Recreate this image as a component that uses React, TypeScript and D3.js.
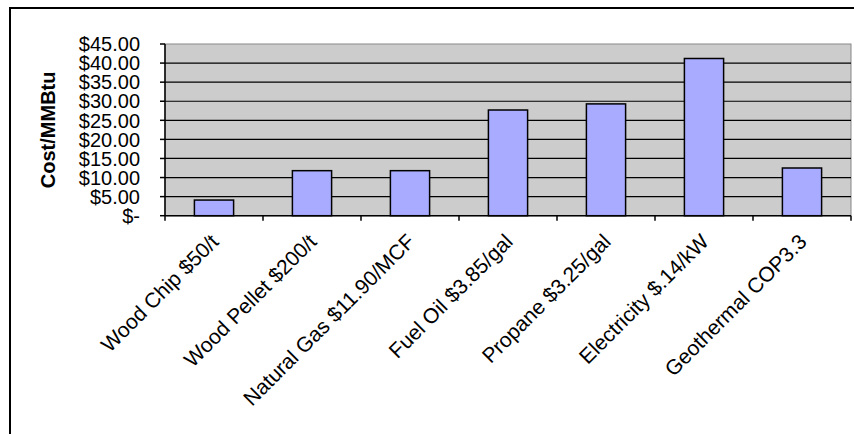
import React from "react";
import * as d3 from "d3";

const categories = [
  "Wood Chip $50/t",
  "Wood Pellet $200/t",
  "Natural Gas $11.90/MCF",
  "Fuel Oil $3.85/gal",
  "Propane $3.25/gal",
  "Electricity $.14/kW",
  "Geothermal COP3.3",
];
const costValues = [4.1, 11.8, 11.8, 27.7, 29.3, 41.2, 12.5];
const yTickValues = [0, 5, 10, 15, 20, 25, 30, 35, 40, 45];
const yAxisTitle = "Cost/MMBtu";

const W = 854;
const H = 434;
const plot = { left: 165, right: 851, top: 44, bottom: 215.7 };
const FONT = "Arial, 'Liberation Sans', sans-serif";

function fmt(v: number) {
  return v === 0 ? "$-" : "$" + v.toFixed(2);
}

export default function App() {
  const x = d3
    .scaleBand<string>()
    .domain(categories)
    .range([plot.left, plot.right])
    .paddingInner(0.6)
    .paddingOuter(0.3);
  const y = d3.scaleLinear().domain([0, 45]).range([plot.bottom, plot.top]);
  const step = x.step();
  const boundaries = categories.map((c) => (x(c) as number) - step * 0.3);
  boundaries.push(plot.right);

  return (
    <svg
      width={W}
      height={H}
      style={{ position: "absolute", left: 0, top: 0, background: "#fff" }}
      fontFamily={FONT}
    >
      {/* outer frame */}
      <line x1={10} y1={8} x2={W + 5} y2={8} stroke="#000" strokeWidth={2} />
      <line x1={10} y1={7} x2={10} y2={H + 5} stroke="#000" strokeWidth={2} />

      {/* plot area */}
      <rect
        x={plot.left}
        y={plot.top}
        width={plot.right - plot.left}
        height={plot.bottom - plot.top}
        fill="#CCCCCC"
        stroke="#888"
        strokeWidth={1}
      />
      {/* gridlines */}
      {yTickValues
        .filter((v) => v > 0 && v < 45)
        .map((v) => (
          <line
            key={"g" + v}
            x1={plot.left}
            x2={plot.right}
            y1={y(v)}
            y2={y(v)}
            stroke="#000"
            strokeWidth={1.2}
          />
        ))}

      {/* bars */}
      {categories.map((c, i) => (
        <rect
          key={c}
          x={x(c)}
          y={y(costValues[i])}
          width={x.bandwidth()}
          height={y(0) - y(costValues[i])}
          fill="#A8ABFF"
          stroke="#000"
          strokeWidth={1.5}
        />
      ))}

      {/* y axis */}
      <line x1={plot.left} x2={plot.left} y1={plot.top} y2={plot.bottom} stroke="#000" strokeWidth={1.5} />
      {yTickValues.map((v) => (
        <g key={"t" + v}>
          <line x1={plot.left - 5} x2={plot.left} y1={y(v)} y2={y(v)} stroke="#000" strokeWidth={1.5} />
          <text
            x={140}
            y={y(v)}
            dy="0.36em"
            textAnchor="end"
            fontSize={20}
            fill="#000"
          >
            {fmt(v)}
          </text>
        </g>
      ))}
      <text
        transform={`translate(55, ${(plot.top + plot.bottom) / 2}) rotate(-90)`}
        textAnchor="middle"
        fontSize={20}
        fontWeight="bold"
        fill="#000"
      >
        {yAxisTitle}
      </text>

      {/* x axis */}
      <line x1={plot.left} x2={plot.right} y1={plot.bottom} y2={plot.bottom} stroke="#000" strokeWidth={1.5} />
      {boundaries.map((b, i) => (
        <line key={"xb" + i} x1={b} x2={b} y1={plot.bottom} y2={plot.bottom + 5} stroke="#000" strokeWidth={1.5} />
      ))}
      {categories.map((c) => {
        const cx = (x(c) as number) + x.bandwidth() / 2;
        return (
          <text
            key={"l" + c}
            transform={`translate(${cx + 6}, 243) rotate(-45)`}
            textAnchor="end"
            fontSize={21}
            fill="#000"
          >
            {c}
          </text>
        );
      })}
    </svg>
  );
}
